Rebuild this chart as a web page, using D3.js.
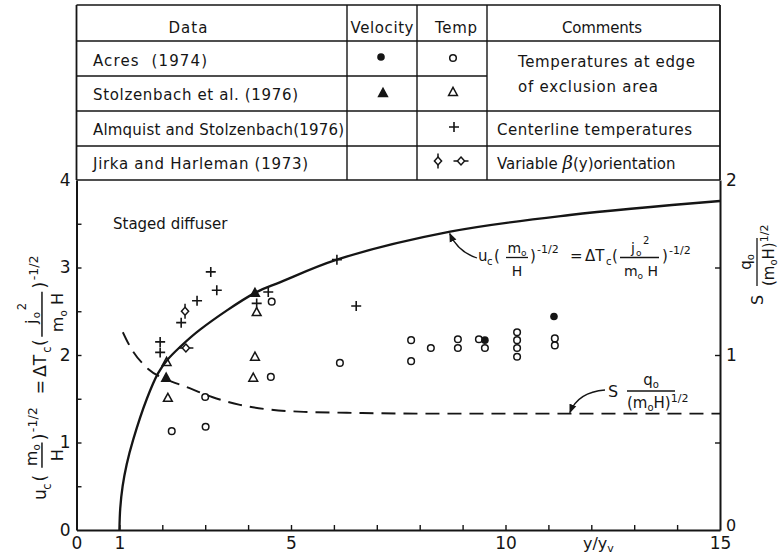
<!DOCTYPE html>
<html><head><meta charset="utf-8">
<script src="https://cdn.jsdelivr.net/npm/d3@7"></script>
<style>
html,body{margin:0;padding:0;background:#fff;}
svg{display:block;font-family:"DejaVu Sans",sans-serif;}
</style></head><body>
<svg id="chart" width="782" height="555"></svg>
<script>
// ---- axis ticks ----
const xTickMarks = d3.range(1, 15);
const xTickLabels = [0, 1, 5, 10, 15];
const yLeftLabels = [0, 1, 2, 3, 4];
const yLeftMarks = [0.5, 1, 1.5, 2, 2.5, 3, 3.5];
const yRightLabels = [0, 1, 2];
const yRightMarks = [0.5, 1, 1.5];

// ---- legend table ----
const tableHeaders = ["Data", "Velocity", "Temp", "Comments"];
const tableSources = ["Acres  (1974)", "Stolzenbach et al. (1976)", "Almquist and Stolzenbach(1976)", "Jirka and Harleman (1973)"];
const tableComments = ["Temperatures at edge", "of exclusion area", "Centerline temperatures", "Variable "];

// ---- theory curves ----
// similarity relation (left axis)
const velocityCurve = [[1, 0], [1.02, 0.25], [1.075, 0.5], [1.17, 0.75], [1.32, 1.03], [1.64, 1.5], [1.9, 1.79],
  [2.11, 1.94], [2.41, 2.09], [2.88, 2.29], [4.16, 2.71], [4.74, 2.83], [6.07, 3.09], [8.71, 3.41], [11.5, 3.6], [15, 3.76]];
// S q0/(m0 H)^1/2 (right axis)
const spacingCurve = [[1.08, 1.13], [1.2, 1.07], [1.67, 0.92], [2.1, 0.86], [2.53, 0.82], [3.16, 0.76], [3.81, 0.715],
  [4.44, 0.69], [5.3, 0.675], [6.3, 0.67], [8, 0.665], [15, 0.665]];

// ---- measurements ----
const acresVelocity = [[9.52, 2.17], [11.13, 2.44]];
const acresTemp = [[2.22, 1.13], [3.01, 1.18], [3.0, 1.52], [4.53, 1.75], [4.55, 2.61], [6.14, 1.91], [7.8, 2.17], [7.8, 1.93],
  [8.26, 2.08], [8.89, 2.18], [8.89, 2.08], [9.38, 2.18], [9.52, 2.08], [10.27, 2.26], [10.27, 2.17], [10.27, 2.08],
  [10.27, 1.98], [11.15, 2.19], [11.15, 2.11]];
const stolzVelocity = [[2.09, 1.74], [4.16, 2.71]];
const stolzTemp = [[2.1, 1.92], [2.13, 1.51], [4.16, 1.98], [4.12, 1.74], [4.2, 2.49]];
const almquistTemp = [[1.95, 2.15], [1.95, 2.03], [2.44, 2.37], [2.81, 2.62], [3.13, 2.95], [3.27, 2.74], [4.2, 2.59],
  [4.47, 2.72], [6.07, 3.09], [6.52, 2.56]];
const jirkaTempV = [[2.53, 2.5]];
const jirkaTempH = [[2.55, 2.08]];

const ink = "#151515";
const svg = d3.select("#chart");

const x = d3.scaleLinear().domain([0, 15]).range([76.5, 720]);
const y = d3.scaleLinear().domain([0, 4]).range([530, 180]);
const yR = d3.scaleLinear().domain([0, 2]).range([530, 180]);

// ---- table ----
const colEdges = [76.5, 347, 417, 487, 720];
const rowEdges = [5, 41, 76, 111, 146, 180];
const tg = svg.append("g").attr("stroke", ink).attr("stroke-width", 1.4);
rowEdges.forEach((ry, i) => {
  const right = i === 2 ? colEdges[3] : colEdges[4];
  tg.append("line").attr("x1", colEdges[0]).attr("x2", right).attr("y1", ry).attr("y2", ry);
});
colEdges.forEach((cx, i) => {
  tg.append("line").attr("x1", cx).attr("x2", cx).attr("y1", rowEdges[0]).attr("y2", rowEdges[5])
    .attr("stroke-width", (i === 0 || i === 4) ? 1.8 : 1.4);
});

const txt = svg.append("g").attr("fill", ink).attr("font-size", 15);
const headerX = [188, 382, 456, 602];
const headerW = [39, 63, 42, 80];
tableHeaders.forEach((h, i) => {
  txt.append("text").attr("x", headerX[i]).attr("y", 33).attr("text-anchor", "middle")
    .attr("textLength", headerW[i]).attr("lengthAdjust", "spacing").text(h);
});
const srcBase = [66, 100, 135, 169];
const srcW = [114, 205, 251, 215];
tableSources.forEach((s, i) => {
  txt.append("text").attr("x", 93).attr("y", srcBase[i]).attr("textLength", srcW[i])
    .attr("lengthAdjust", "spacing").attr("xml:space", "preserve").text(s);
});
const comX = [518, 518, 497, 497];
const comBase = [67, 92, 135, 169];
const comW = [177, 140, 195, null];
tableComments.forEach((c, i) => {
  const t = txt.append("text").attr("x", comX[i]).attr("y", comBase[i]).attr("xml:space", "preserve");
  if (comW[i]) t.attr("textLength", comW[i]).attr("lengthAdjust", "spacing");
  t.text(c);
  if (i === 3) {
    t.append("tspan").attr("font-family", "DejaVu Serif").attr("font-style", "italic").attr("font-size", 18).text("β");
    t.append("tspan").text("(y)orientation");
  }
});

// ---- marker shapes ----
function marker(g, kind, px, py) {
  const s = g.append("g").attr("transform", `translate(${px},${py})`)
    .attr("stroke", ink).attr("stroke-width", 1.5).attr("fill", "none");
  if (kind === "dot") s.append("circle").attr("r", 3.8).attr("fill", ink).attr("stroke", "none");
  if (kind === "ring") s.append("circle").attr("r", 3.3);
  if (kind === "tri" || kind === "triFill") s.append("path").attr("d", "M0,-4.6L4.4,3.4L-4.4,3.4Z")
    .attr("fill", kind === "triFill" ? ink : "none");
  if (kind === "plus") s.append("path").attr("d", "M-5,0H5M0,-5V5").attr("stroke-width", 1.6);
  if (kind === "diaV" || kind === "diaH") {
    s.append("path").attr("d", "M0,-4L3.6,0L0,4L-3.6,0Z").attr("fill", "#fff");
    s.append("path").attr("d", kind === "diaV" ? "M0,-4V-7.5M0,4V7.5" : "M-3.6,0H-7.5M3.6,0H7.5");
  }
}

// legend symbols in the table
const lg = svg.append("g");
marker(lg, "dot", 381, 57);
marker(lg, "ring", 453, 58);
marker(lg, "triFill", 383, 93);
marker(lg, "tri", 453, 92);
marker(lg, "plus", 454, 127);
marker(lg, "diaV", 438, 161);
marker(lg, "diaH", 461, 161);

// ---- axes ----
const axG = svg.append("g");
axG.append("g").attr("transform", `translate(0,${y(0)})`)
  .call(d3.axisBottom(x).tickValues(xTickMarks).tickSizeInner(-5).tickSizeOuter(0).tickFormat(""));
const bottomLabels = axG.append("g").attr("transform", `translate(0,${y(0)})`)
  .call(d3.axisBottom(x).tickValues(xTickLabels).tickSize(0).tickPadding(7).tickFormat(d3.format("d")));
axG.append("g").attr("transform", `translate(${x(0)},0)`)
  .call(d3.axisLeft(y).tickValues(yLeftMarks).tickSizeInner(-5).tickSizeOuter(0).tickFormat(""));
const leftLabels = axG.append("g").attr("transform", `translate(${x(0)},0)`)
  .call(d3.axisLeft(y).tickValues(yLeftLabels).tickSize(0).tickPadding(6).tickFormat(d3.format("d")));
axG.append("g").attr("transform", `translate(${x(15)},0)`)
  .call(d3.axisRight(yR).tickValues(yRightMarks).tickSizeInner(-5).tickSizeOuter(0).tickFormat(""));
const rightLabels = axG.append("g").attr("transform", `translate(${x(15)},0)`)
  .call(d3.axisRight(yR).tickValues(yRightLabels).tickSize(0).tickPadding(6).tickFormat(d3.format("d")));

axG.selectAll(".domain").attr("stroke", ink).attr("stroke-width", 2);
axG.selectAll(".tick line").attr("stroke", ink).attr("stroke-width", 1.4);
axG.selectAll(".tick text").attr("fill", ink).attr("font-size", 17).attr("font-family", "DejaVu Sans");
bottomLabels.selectAll(".domain").remove();
leftLabels.selectAll(".domain").remove();
rightLabels.selectAll(".domain").remove();
bottomLabels.selectAll(".tick text").attr("dy", "0.71em");
rightLabels.selectAll(".tick text").filter(d => d === 0).attr("dy", "0.05em").attr("font-size", 16);

// x-axis title
const xt = svg.append("text").attr("x", 583).attr("y", 549).attr("font-size", 16).attr("fill", ink);
xt.append("tspan").text("y/y");
xt.append("tspan").attr("font-size", 11).attr("dy", 3).text("v");

// ---- curves ----
const line = d3.line().x(d => x(d[0])).y(d => y(d[1])).curve(d3.curveCatmullRom.alpha(0.5));
const lineR = d3.line().x(d => x(d[0])).y(d => yR(d[1])).curve(d3.curveMonotoneX);
svg.append("path").attr("d", line(velocityCurve)).attr("fill", "none").attr("stroke", ink).attr("stroke-width", 2.3);
svg.append("path").attr("d", lineR(spacingCurve)).attr("fill", "none").attr("stroke", ink).attr("stroke-width", 1.9)
  .attr("stroke-dasharray", "14,8");

// ---- points ----
const pg = svg.append("g");
acresTemp.forEach(d => marker(pg, "ring", x(d[0]), y(d[1])));
stolzTemp.forEach(d => marker(pg, "tri", x(d[0]), y(d[1])));
almquistTemp.forEach(d => marker(pg, "plus", x(d[0]), y(d[1])));
jirkaTempV.forEach(d => marker(pg, "diaV", x(d[0]), y(d[1])));
jirkaTempH.forEach(d => marker(pg, "diaH", x(d[0]), y(d[1])));
acresVelocity.forEach(d => marker(pg, "dot", x(d[0]), y(d[1])));
stolzVelocity.forEach(d => marker(pg, "triFill", x(d[0]), y(d[1])));

// ---- annotations ----
svg.append("text").attr("x", 113).attr("y", 229).attr("font-size", 15).attr("fill", ink).text("Staged diffuser");

// u_c (m_o/H)^-1/2 = ΔT_c (j_o^2/m_o H)^-1/2, baseline at local y = 0
function similarity(g) {
  g.attr("fill", ink);
  const T = (s, tx, ty, fs, anchor) => g.append("text").attr("x", tx).attr("y", ty).attr("font-size", fs)
    .attr("text-anchor", anchor || "start").text(s);
  T("u", 0, 0, 15); T("c", 9, 4, 10);
  T("(", 16, 0, 15);
  const n1 = g.append("text").attr("x", 39).attr("y", -8).attr("font-size", 14).attr("text-anchor", "middle");
  n1.append("tspan").text("m"); n1.append("tspan").attr("dy", 3).attr("font-size", 9).text("o");
  T("H", 39, 15, 14, "middle");
  g.append("line").attr("x1", 28).attr("x2", 50).attr("y1", -3.5).attr("y2", -3.5).attr("stroke", ink).attr("stroke-width", 1.3);
  T(")", 52, 0, 15);
  T("-1/2", 59, -8, 11);
  T("=", 92, 0, 15);
  T("ΔT", 107, 0, 15); T("c", 128, 4, 10);
  T("(", 134, 0, 15);
  T("j", 153, -8, 14); T("o", 158, -5, 9); T("2", 165, -17, 10);
  g.append("line").attr("x1", 142).attr("x2", 181).attr("y1", -3.5).attr("y2", -3.5).attr("stroke", ink).attr("stroke-width", 1.3);
  const d1 = g.append("text").attr("x", 163).attr("y", 15).attr("font-size", 14).attr("text-anchor", "middle");
  d1.append("tspan").text("m"); d1.append("tspan").attr("dy", 3).attr("font-size", 9).text("o");
  d1.append("tspan").attr("dy", -3).text(" H");
  T(")", 184, 0, 15);
  T("-1/2", 191, -7, 11);
}

// S q_o/(m_o H)^1/2, baseline of S at local y = 0
function spacing(g) {
  g.attr("fill", ink);
  g.append("text").attr("x", 0).attr("y", 0).attr("font-size", 16).text("S");
  g.append("line").attr("x1", 19).attr("x2", 67).attr("y1", -6).attr("y2", -6).attr("stroke", ink).attr("stroke-width", 1.3);
  const n = g.append("text").attr("x", 43).attr("y", -12).attr("font-size", 15).attr("text-anchor", "middle");
  n.append("tspan").text("q"); n.append("tspan").attr("dy", 3).attr("font-size", 10).text("o");
  const d = g.append("text").attr("x", 19).attr("y", 11).attr("font-size", 15);
  d.append("tspan").text("(m"); d.append("tspan").attr("dy", 3).attr("font-size", 10).text("o");
  d.append("tspan").attr("dy", -3).text("H)");
  d.append("tspan").attr("dy", -6).attr("font-size", 11).text("1/2");
}

similarity(svg.append("g").attr("transform", "translate(478,261)"));
similarity(svg.append("g").attr("transform", "translate(46,500) rotate(-90) scale(1.15)"));
spacing(svg.append("g").attr("transform", "translate(608,397)"));
spacing(svg.append("g").attr("transform", "translate(763,305) rotate(-90)"));

// leader arrows
svg.append("defs").append("marker").attr("id", "head").attr("viewBox", "0 0 10 10").attr("refX", 9).attr("refY", 5)
  .attr("markerWidth", 7).attr("markerHeight", 7).attr("orient", "auto")
  .append("path").attr("d", "M0,1L10,5L0,9Z").attr("fill", ink);
const tip1 = [x(8.7), y(3.41) + 2];
svg.append("path").attr("d", `M477,258Q458,252 ${tip1[0]},${tip1[1]}`).attr("fill", "none").attr("stroke", ink)
  .attr("stroke-width", 1.3).attr("marker-end", "url(#head)");
const tip2 = [x(11.5), yR(0.665) - 1];
svg.append("path").attr("d", `M605,390Q578,392 ${tip2[0]},${tip2[1]}`).attr("fill", "none").attr("stroke", ink)
  .attr("stroke-width", 1.3).attr("marker-end", "url(#head)");
</script>
</body></html>
